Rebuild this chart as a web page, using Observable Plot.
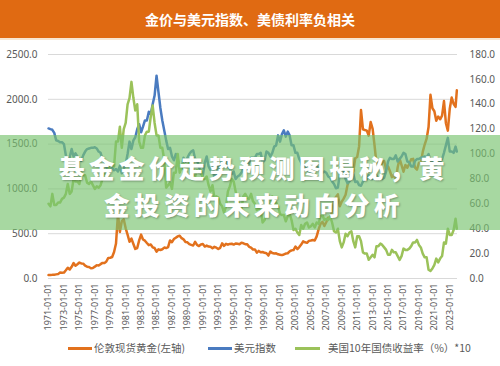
<!DOCTYPE html>
<html><head><meta charset="utf-8">
<script src="https://cdn.jsdelivr.net/npm/d3@7"></script>
<script src="https://cdn.jsdelivr.net/npm/@observablehq/plot@0.6"></script>
<style>
body{margin:0;width:500px;height:366px;overflow:hidden;background:#fff;font-family:"Noto Sans CJK SC","Noto Sans",sans-serif;position:relative}
#title{position:absolute;left:0;top:0;width:500px;height:38px;background:#e06a12;color:#fff;font-weight:bold;font-size:14px;line-height:38px;text-align:center}
#strip{position:absolute;top:38px;left:0;width:500px;height:2px;background:#f8e6d2}
#chart{position:absolute;top:38px;left:0}
.sw{position:absolute;top:347px;height:3px}
.lt{position:absolute;top:340px;font-size:10.5px;line-height:16px;color:#595959;white-space:nowrap}
#band{position:absolute;left:0;top:135px;width:500px;height:95px;background:rgba(120,195,110,0.65)}
.ov{position:absolute;left:0;width:500px;text-align:center;color:#fff;font-weight:900;font-size:25.5px;letter-spacing:4.5px;line-height:37px;height:37px;white-space:nowrap;text-shadow:1px 1px 2px rgba(0,0,0,0.3)}
</style></head>
<body>
<div id="title">金价与美元指数、美债利率负相关</div>
<div id="strip"></div>
<div id="chart"></div>
<div class="sw" style="left:68px;width:24px;background:#e2711d"></div>
<div class="lt" style="left:94px">伦敦现货黄金(左轴)</div>
<div class="sw" style="left:208px;width:24px;background:#4a7bc0"></div>
<div class="lt" style="left:234px">美元指数</div>
<div class="sw" style="left:295px;width:25px;background:#9bc25a"></div>
<div class="lt" style="left:328px">美国10年国债收益率（%）*10</div>
<div id="band"></div>
<div class="ov" style="top:148px;padding-left:4px">基金金价走势预测图揭秘，黄</div>
<div class="ov" style="top:185px;padding-left:4px">金投资的未来动向分析</div>
<script>
const years = d3.range(1971, 2024);
const months = ["01","04","07","10"];
const dates = years.flatMap(y => months.map(m => `${y}-${m}`)).concat(["2023-12"]);

const gold = [
38,40,41,43, 46,49,66,64, 66,92,120,100, 130,172,143,160, 178,168,166,143,
132,128,115,118, 132,149,144,160, 174,172,190,230, 232,240,296,390, 720,520,640,660,
560,490,410,445, 385,330,340,425, 490,435,422,396, 372,380,348,340, 300,325,318,326,
345,340,350,425, 405,440,455,470, 478,450,437,407, 404,384,375,368, 410,374,362,380,
384,357,368,357, 354,338,353,344, 329,342,392,364, 387,377,386,388, 379,391,387,383,
400,393,383,381, 354,344,324,325, 289,308,293,296, 287,282,256,300, 284,280,281,270,
266,261,268,278, 282,302,314,317, 357,328,351,379, 414,404,398,420, 424,429,424,470,
549,610,633,586, 631,679,666,754, 889,909,939,807, 858,891,934,1043, 1117,1149,1193,1342,
1356,1474,1880,1665, 1657,1650,1594,1747, 1670,1487,1286,1316, 1244,1299,1311,1222, 1251,1197,1131,1159,
1097,1242,1337,1266, 1192,1267,1236,1281, 1331,1335,1238,1215, 1292,1286,1413,1495, 1560,1690,2050,1900,
1867,1760,1807,1777, 1817,1980,1733,1650, 1898,2020,1950,1916, 2100];

const dxy = [
120.6,120,119.5,117, 111,110.5,109.5,109.5, 108,99,94,97.5, 104,98,100.5,98, 96,94.5,99,102,
104,104.5,105,105, 105.5,104.5,102,101, 96,93.5,90,84.5, 88,89,87,88, 86,90.5,84.5,88,
92,100,110,104, 111,113.5,120,124, 117.5,122,127,127, 134,132,140,147, 163,150,137,127,
119,111,104,105, 98,95,100,96, 89,88,97,94, 97,100,102,103, 96,95,90,84,
83,93,98,90, 87,91,81,82, 92,88,96,92, 95,90,88,84, 86,80,82,83,
85,88,86,88, 93,97,97,97, 100,100,101,93, 95,102,101,98, 101,106,107,115,
110,116,119,114, 118,115,107,107, 101,101,96,93, 87,90,88,86, 83,85,89,90,
89,87,85,86, 85,82,81,78, 76,72.5,73,84, 85,86,80,76.5, 78,81,84,77.5,
78,75,74.5,78, 80,79.5,83,80, 80,82.5,83,80, 81,80,81,86, 94,97,96,96,
99,94,96,98, 101,100,94,93.5, 90,90,94.5,96, 96,97,97.5,98, 97.5,100,95,93,
90.5,91.5,92.5,94, 96,101,107,113, 102,102,101,106, 102];

const yield10 = [
60,58,68,59, 59,61,61,64, 65,68,76,68, 70,80,78,78, 76,85,83,83,
77,76,78,75, 72,74,73,75, 80,83,86,87, 91,92,90,110, 110,122,105,120,
125,140,145,158, 145,135,140,110, 105,105,115,118, 118,130,139,125, 115,115,105,105,
95,73,75,77, 72,85,85,100, 85,90,92,88, 90,93,80,80, 82,87,85,87,
80,80,82,75, 70,75,65,66, 65,60,58,53, 58,70,74,80, 78,70,62,60,
56,66,68,65, 64,68,62,60, 55,56,55,45, 47,52,58,60, 66,60,61,58,
52,51,51,46, 50,52,47,39, 40,37,35,43, 40,44,45,41, 42,44,41,45,
44,50,51,47, 48,47,50,45, 38,37,40,30, 25,29,36,34, 37,38,30,25,
34,34,30,21, 20,20,15,17, 19,17,26,26, 28,27,25,23, 19,19,23,21,
21,18,15,18, 24,23,23,24, 26,29,29,31, 27,25,20,17, 17,7,6,8,
11,16,13,16, 18,29,28,40, 35,35,39,48, 40];

const leftTicks = [0, 500, 1000, 1500, 2000, 2500];
const rightTicks = [0, 20, 40, 60, 80, 100, 120, 140, 160, 180];
const tickYears = d3.range(1971, 2024, 2);

const k = 2500 / 180;
const rows = dates.map((d, i) => ({date: new Date(d + "-01"), gold: gold[i], dxy: dxy[i] * k, yld: yield10[i] * k}));
const tickDates = tickYears.map(y => new Date(`${y}-01-01`));

const chart = Plot.plot({
  width: 500, height: 298,
  marginLeft: 48, marginRight: 43, marginTop: 16, marginBottom: 58,
  x: {type: "utc", domain: [new Date("1971-01-01"), new Date("2024-01-01")]},
  y: {domain: [0, 2500]},
  style: {fontFamily: "'Noto Sans','Noto Sans CJK SC',sans-serif", fontSize: "10px", color: "#595959", background: "transparent"},
  marks: [
    Plot.gridY(leftTicks, {stroke: "#d9d9d9", strokeOpacity: 1}),
    Plot.axisY(leftTicks, {anchor: "left", tickSize: 0, tickPadding: 11, tickFormat: d => d.toFixed(1), label: null}),
    Plot.axisY(rightTicks.map(r => r * k), {anchor: "right", tickSize: 0, tickPadding: 12, tickFormat: v => (v / k).toFixed(1), label: null}),
    Plot.axisX(tickDates, {anchor: "bottom", tickRotate: -90, tickSize: 0, tickPadding: 5, tickFormat: d3.utcFormat("%Y-%m-%d"), label: null, fontSize: 9}),
    Plot.lineY(rows, {x: "date", y: "gold", stroke: "#e2711d", strokeWidth: 2.5}),
    Plot.lineY(rows, {x: "date", y: "dxy", stroke: "#4a7bc0", strokeWidth: 2.5}),
    Plot.lineY(rows, {x: "date", y: "yld", stroke: "#9bc25a", strokeWidth: 2.5})
  ]
});
document.getElementById("chart").appendChild(chart);
</script>
</body></html>
